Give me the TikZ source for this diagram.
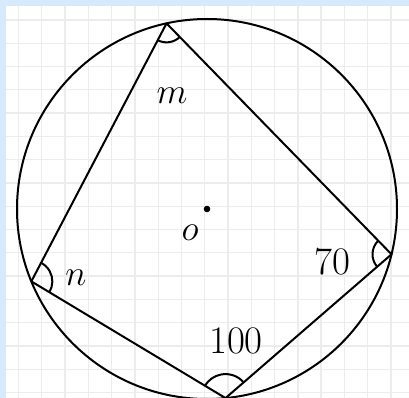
\RequirePackage{fix-cm}
\documentclass[tikz,border=0pt]{standalone}
\usepackage{tikz}
\usetikzlibrary{angles}
\definecolor{framebl}{RGB}{214,234,252}
\definecolor{gridgr}{RGB}{236,236,236}
\tikzset{
    gridline/.style={gridgr, line width=1.3pt},
    lbl/.style={font=\fontsize{36}{40}\selectfont, inner sep=0pt},
    numlbl/.style={font=\fontsize{39}{44}\selectfont, inner sep=0pt},
    angmark/.style={draw, line width=2pt}
}
\begin{document}
\begin{tikzpicture}[x=1pt,y=1pt,line width=2pt]
    \def\rad{190pt}
    \def\gstep{23.28}

    % frame and grid
    \useasboundingbox (-207,-189) rectangle (202,209);
    \clip (-207,-189) rectangle (202,209);
    \fill[framebl] (-207,-189) rectangle (202,209);
    \fill[white] (-201,-189) rectangle (202,203);
    \foreach \k in {0,...,16} {
        \draw[gridline] ({-188.5+\k*\gstep},-189) -- ({-188.5+\k*\gstep},203);
        \draw[gridline] (-201,{189-\k*\gstep}) -- (202,{189-\k*\gstep});
    }

    % circle and centre
    \coordinate (O) at (0,0);
    \draw (O) circle (\rad);
    \fill (O) circle (3.3pt);

    % vertices
    \coordinate (A) at (102.3:\rad);
    \coordinate (B) at (202.4:\rad);
    \coordinate (C) at (275.6:\rad);
    \coordinate (D) at (346.2:\rad);

    % quadrilateral
    \draw[line join=round] (A) -- (B) -- (C) -- (D) -- cycle;

    % angle marks
    \pic[angmark, angle radius=19pt] {angle = B--A--D};
    \pic[angmark, angle radius=21pt] {angle = C--B--A};
    \pic[angmark, angle radius=24pt] {angle = D--C--B};
    \pic[angmark, angle radius=19pt] {angle = A--D--C};

    % labels
    \node[lbl] (lm) at (-35,113) {$m$};
    \node[lbl] (lo) at (-17,-24) {$o$};
    \node[lbl] (ln) at (-131,-69) {$n$};
    \node[numlbl] (l70) at (125,-53) {70};
    \node[numlbl] (l100) at (29,-132) {100};
\end{tikzpicture}
\end{document}
